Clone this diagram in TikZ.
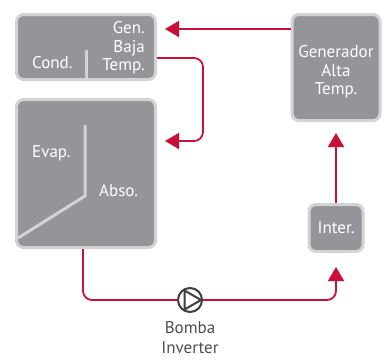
\documentclass[tikz,border=0pt]{standalone}
\usepackage{fontspec}
\setmainfont{PT Sans}
\usepackage{tikz}
\usetikzlibrary{arrows.meta,positioning,calc}
\definecolor{boxfill}{RGB}{147,149,152}
\definecolor{boxedge}{RGB}{210,211,213}
\definecolor{lgred}{RGB}{200,16,56}
\definecolor{pumpink}{RGB}{62,62,62}
\definecolor{txtgray}{RGB}{78,78,78}
\tikzset{
  unit/.style={draw=boxedge,line width=3pt,fill=boxfill,rounded corners=7pt,
    inner sep=0pt,text=white,font=\fontsize{17}{18.7}\selectfont,align=center},
  lbl/.style={inner sep=0pt,text=white,font=\fontsize{17}{18.7}\selectfont},
  wall/.style={draw=boxedge,line width=3pt},
  flow/.style={draw=lgred,line width=1.8pt,rounded corners=9pt,
    -{Triangle[length=14pt,width=16pt]}},
  pump/.style={circle,draw=pumpink,line width=2pt,fill=white,minimum size=24pt,inner sep=0pt},
}
\begin{document}
\begin{tikzpicture}[x=1pt,y=-1pt]
  \useasboundingbox (0,0) rectangle (382,359);
  % units
  \node[unit,minimum width=139pt,minimum height=65pt] (C) at (86,47) {};
  \node[unit,minimum width=139pt,minimum height=148pt,below=17pt of C] (E) {};
  \node[unit,minimum width=88pt,minimum height=106pt] (G) at (336,67.5) {};
  \node[unit,minimum width=54pt,minimum height=47pt,below=81pt of G] (I) {Inter.};
  \node[pump] (P) at (190,300) {};
  % inner walls
  \draw[wall] ([yshift=1.5pt]C.south) -- ++(0,-30);
  \draw[wall] ($(E.north west)+(70,27)$) -- ($(E.north west)+(70,98)$)
    -- ($(E.south west)+(3,-11)$);
  \draw[pumpink,line width=2pt,line join=round]
    ($(P)+(120:11)$) -- ($(P)+(0:11)$) -- ($(P)+(240:11)$) -- cycle;
  % labels
  \node[lbl,anchor=base west] (cond) at ($(C.south west)+(17,-13)$) {Cond.};
  \node[lbl,anchor=north east,align=right] (genb) at ($(C.north east)+(-12,8)$)
    {Gen.\\Baja\\Temp.};
  \node[lbl,anchor=base west] (evap) at ($(E.north west)+(17,59)$) {Evap.};
  \node[lbl,anchor=base west] (abso) at ($(E.north west)+(84,98)$) {Abso.};
  \node[lbl,anchor=north,align=center] (gena) at ($(G.north)+(0,32)$)
    {Generador\\Alta\\Temp.};
  \node[inner sep=0pt,text=txtgray,font=\fontsize{17}{20.5}\selectfont,align=center,
    below=8pt of P] (bomba) {Bomba\\Inverter};
  % circuit
  \draw[flow,shorten >=8pt] ([yshift=-16pt]G.north west) -- ([yshift=-16pt]C.north east);
  \draw[flow] ([yshift=-11pt]C.east) -- ++(46,0) |- ([xshift=8pt,yshift=-43pt]E.north east);
  \draw[flow,-] ([xshift=-3pt]E.south) |- (P);
  \draw[flow,shorten >=14pt] (P) -| (I.south);
  \draw[flow,shorten >=11pt] (I) -- (G);
\end{tikzpicture}
\end{document}
